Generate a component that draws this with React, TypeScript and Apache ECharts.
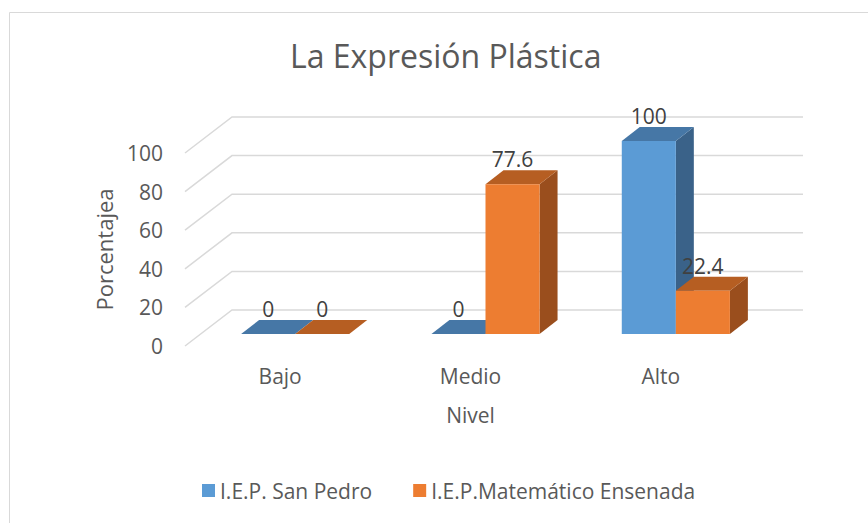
import React, { useEffect, useRef } from "react";
import * as echarts from "echarts";

const categories = ["Bajo", "Medio", "Alto"];
const seriesNames = ["I.E.P. San Pedro", "I.E.P.Matemático Ensenada"];
const sanPedro = [0, 0, 100];
const ensenada = [0, 77.6, 22.4];
const yTicks = [0, 20, 40, 60, 80, 100];

const FONT = "'Open Sans', 'Noto Sans', sans-serif";
const BACK = [47, -36];
const FRONT_OFF = [15, -12];
const DEPTH = [18, -14];
const BAR_RATIO = 0.284;

const blueColors = { front: "#5B9BD5", top: "#4677A6", side: "#3A6289" };
const orangeColors = { front: "#ED7D31", top: "#B65E22", side: "#9A4E1D" };

function makeBarRender(side: number, colors: { front: string; top: string; side: string }) {
  return (params: any, api: any) => {
    const cat = api.value(0);
    const v = api.value(1);
    const top = api.coord([cat, v]);
    const base = api.coord([cat, 0]);
    const bw = api.size([1, 0])[0];
    const w = bw * BAR_RATIO;
    const cx = top[0] + FRONT_OFF[0];
    const x0 = side === 0 ? cx - w : cx;
    const x1 = x0 + w;
    const yT = top[1] + FRONT_OFF[1];
    const yB = base[1] + FRONT_OFF[1];
    const dx = DEPTH[0];
    const dy = DEPTH[1];
    return {
      type: "group",
      children: [
        {
          type: "polygon",
          shape: { points: [[x1, yT], [x1 + dx, yT + dy], [x1 + dx, yB + dy], [x1, yB]] },
          style: { fill: colors.side },
        },
        {
          type: "polygon",
          shape: { points: [[x0, yT], [x1, yT], [x1 + dx, yT + dy], [x0 + dx, yT + dy]] },
          style: { fill: colors.top },
        },
        {
          type: "rect",
          shape: { x: x0, y: yT, width: w, height: Math.max(0, yB - yT) },
          style: { fill: colors.front },
        },
        {
          type: "text",
          style: {
            text: String(v),
            x: (x0 + x1) / 2,
            y: yT + dy - 11,
            align: "center",
            verticalAlign: "middle",
            fontSize: 21,
            fontFamily: FONT,
            fill: "#404040",
          },
        },
      ],
    };
  };
}

export default function App() {
  const ref = useRef<HTMLDivElement>(null);
  useEffect(() => {
    if (!ref.current) return;
    const chart = echarts.init(ref.current, null, { renderer: "svg" });
    const option: any = {
      animation: false,
      backgroundColor: "#ffffff",
      title: {
        text: "La Expresión Plástica",
        left: 285,
        top: 34,
        textStyle: { fontSize: 32, fontWeight: "normal", fontFamily: FONT, color: "#595959" },
      },
      graphic: [
        {
          type: "rect",
          shape: { x: 9.5, y: 12.5, width: 900, height: 600 },
          style: { fill: "none", stroke: "#d9d9d9", lineWidth: 1 },
          z: -10,
        },
      ],
      legend: {
        data: seriesNames.map((n) => ({ name: n, icon: "rect" })),
        left: 202,
        top: 480,
        padding: 0,
        itemWidth: 13,
        itemHeight: 13,
        itemGap: 41,
        textStyle: { fontSize: 21, fontFamily: FONT, color: "#595959" },
      },
      grid: { left: 185, top: 153, width: 571, height: 193, containLabel: false },
      xAxis: {
        type: "category",
        data: categories,
        name: "Nivel",
        nameLocation: "middle",
        nameGap: 58,
        nameTextStyle: { fontSize: 21, fontFamily: FONT, color: "#595959" },
        axisLine: { show: false },
        axisTick: { show: false },
        axisLabel: { fontSize: 21, fontFamily: FONT, color: "#595959", margin: 19 },
        splitLine: { show: false },
      },
      yAxis: {
        type: "value",
        min: 0,
        max: 100,
        interval: 20,
        name: "Porcentajea",
        nameLocation: "middle",
        nameGap: 70,
        nameTextStyle: { fontSize: 22, fontFamily: FONT, color: "#595959" },
        axisLine: { show: false },
        axisTick: { show: false },
        axisLabel: { fontSize: 21, fontFamily: FONT, color: "#595959", margin: 22 },
        splitLine: { show: false },
      },
      series: [
        {
          type: "custom",
          name: "grid3d",
          silent: true,
          data: yTicks.map((t) => [0, t]),
          encode: { x: 0, y: 1 },
          renderItem: (params: any, api: any) => {
            const cs = params.coordSys;
            const y = api.coord([0, api.value(1)])[1];
            const x0 = cs.x;
            return {
              type: "polyline",
              shape: {
                points: [
                  [x0, y],
                  [x0 + BACK[0], y + BACK[1]],
                  [cs.x + cs.width + BACK[0], y + BACK[1]],
                ],
              },
              style: { stroke: "#d9d9d9", lineWidth: 1.5, fill: "none" },
            };
          },
          z: 1,
        },
        {
          type: "custom",
          name: seriesNames[0],
          data: sanPedro.map((v, i) => [i, v]),
          encode: { x: 0, y: 1 },
          itemStyle: { color: blueColors.front },
          renderItem: makeBarRender(0, blueColors),
          z: 2,
        },
        {
          type: "custom",
          name: seriesNames[1],
          data: ensenada.map((v, i) => [i, v]),
          encode: { x: 0, y: 1 },
          itemStyle: { color: orangeColors.front },
          renderItem: makeBarRender(1, orangeColors),
          z: 3,
        },
      ],
    };
    chart.setOption(option);
    return () => chart.dispose();
  }, []);
  return (
    <div
      ref={ref}
      style={{ position: "fixed", left: 0, top: 0, width: 868, height: 523 }}
    />
  );
}
